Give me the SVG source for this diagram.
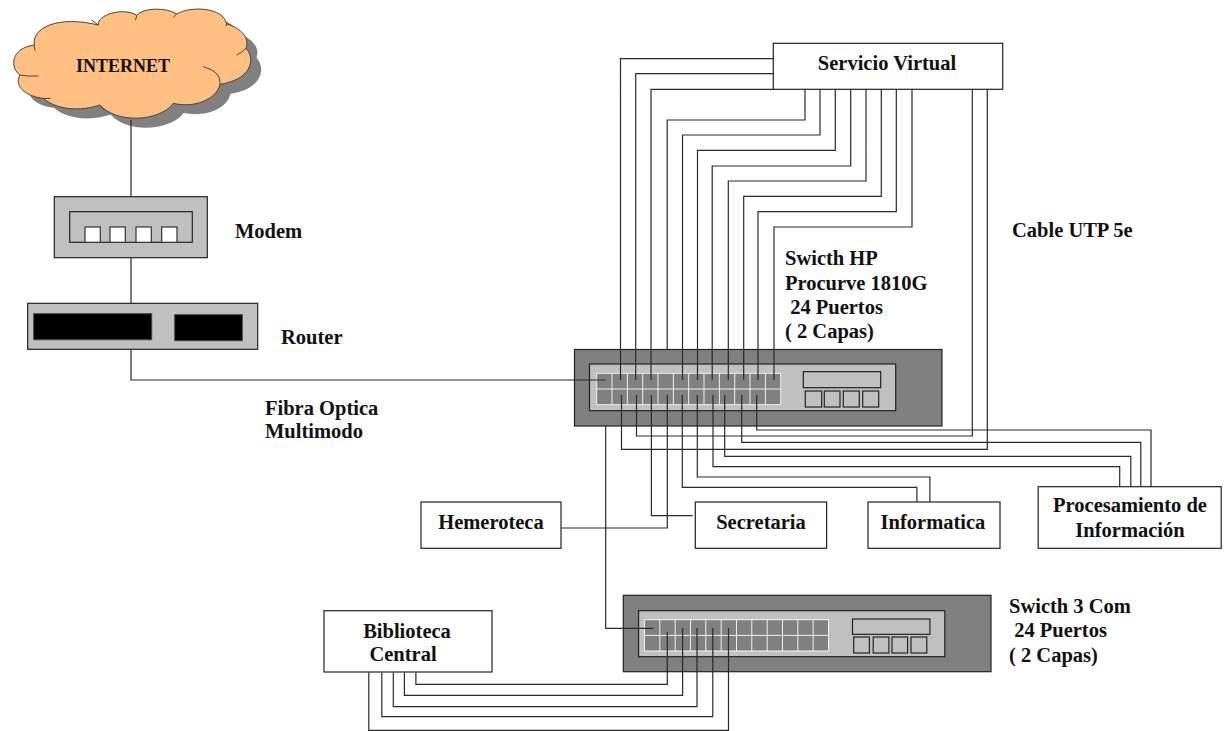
<svg xmlns="http://www.w3.org/2000/svg" width="1225" height="731" viewBox="0 0 1225 731">
<style>
text{font-family:"Liberation Serif","Times New Roman",serif;font-weight:bold;font-size:20.500px;fill:#111}
.m{text-anchor:middle}
.box{fill:#fff;stroke:#222;stroke-width:1.2}
.outer{fill:#808080;stroke:#222;stroke-width:1.2}
.inner{fill:#c0c0c0;stroke:#222;stroke-width:1.2}
.blk{fill:#000;stroke:#444;stroke-width:1}
.wht{fill:#fff;stroke:#333;stroke-width:1.2}
.grid{fill:none;stroke:#f0f0f0;stroke-width:1}
.cl{fill:none;stroke:#2a2a2a;stroke-width:1.2}
.arc{fill:none;stroke:#444;stroke-width:3}
</style>
<defs>
<path id="cloud" d="M103 135C95 85 170 45 295 75C290 45 370 20 410 46C430 22 500 22 530 42C570 18 670 20 680 72C725 85 750 115 738 145C770 180 750 240 660 253C650 300 580 325 520 310C480 365 350 372 300 315C240 335 170 330 130 295C80 290 40 260 60 225C30 205 30 145 103 135Z"/>
<path id="ports" d="M0 0H184V31.400H0ZM0 15.700H184M15.300 0V31.400M30.700 0V31.400M46 0V31.400M61.300 0V31.400M76.700 0V31.400M92 0V31.400M107.300 0V31.400M122.700 0V31.400M138 0V31.400M153.300 0V31.400M168.700 0V31.400"/>
</defs>
<rect width="1225" height="731" fill="#fff"/>
<g id="internet">
<use href="#cloud" transform="translate(10.500 9.500) scale(.3333)" fill="#808080"/>
<g transform="scale(.3333)">
<use href="#cloud" fill="#ffbf80" stroke="#444" stroke-width="3"/>
<path class="arc" d="M103 135Q101 145 106 152M295 75Q285 68 275 60M410 46Q409 55 406 60M530 42Q525 48 520 52M680 72Q680 75 678 78M738 145Q730 155 710 165M610 200Q665 215 660 253M300 315Q305 323 312 330M130 295Q142 296 152 295M60 225Q85 230 115 228"/>
</g>
<text class="m" x="123" y="72" style="font-size:18px">INTERNET</text>
</g>
<g id="modem">
<rect class="inner" x="54.300" y="196.700" width="153" height="61"/>
<rect class="inner" x="69.700" y="211.700" width="122.600" height="30.600"/>
<rect class="wht" x="85" y="227" width="15.300" height="15.300"/>
<rect class="wht" x="110" y="227" width="15.300" height="15.300"/>
<rect class="wht" x="136" y="227" width="15.300" height="15.300"/>
<rect class="wht" x="161.700" y="227" width="15.300" height="15.300"/>
<text x="235" y="238">Modem</text>
</g>
<g id="router">
<rect class="inner" x="27.700" y="303.300" width="230" height="46"/>
<rect class="blk" x="33.700" y="313.700" width="118" height="26"/>
<rect class="blk" x="174.700" y="314.700" width="67.600" height="26"/>
<text x="281" y="344">Router</text>
</g>
<g id="servicio-virtual">
<rect class="box" x="773.300" y="43.300" width="229.400" height="46"/>
<text class="m" x="887" y="70">Servicio Virtual</text>
</g>
<g id="switch-hp">
<rect class="outer" x="574.500" y="349.500" width="367.500" height="76.500"/>
<rect class="inner" x="589.500" y="364" width="306.200" height="46.700"/>
<path fill="#808080" d="M596.700 373.300h184v31.400h-184z"/>
<use href="#ports" class="grid" x="596.700" y="373.300"/>
<rect class="inner" x="803.300" y="371.700" width="77.400" height="16"/>
<rect class="inner" x="805.300" y="391" width="16.400" height="16"/>
<rect class="inner" x="824.300" y="391" width="15.700" height="16"/>
<rect class="inner" x="843.300" y="391" width="16" height="16"/>
<rect class="inner" x="862.700" y="391" width="16" height="16"/>
<text x="785" y="265">Swicth HP</text>
<text x="785" y="290">Procurve 1810G</text>
<text x="785" y="314" xml:space="preserve"> 24 Puertos</text>
<text x="785" y="338">( 2 Capas)</text>
</g>
<g id="switch-3com">
<rect class="outer" x="623.300" y="595.300" width="367.700" height="76.400"/>
<rect class="inner" x="638.600" y="610.700" width="306.200" height="46"/>
<path fill="#808080" d="M644.300 620h184.500v30.700h-184.500z"/>
<use href="#ports" class="grid" x="644.500" y="619.700"/>
<rect class="inner" x="852.500" y="619" width="77.400" height="15.300"/>
<rect class="inner" x="853.700" y="637" width="15.700" height="16"/>
<rect class="inner" x="873.200" y="637" width="15.700" height="16"/>
<rect class="inner" x="892" y="637" width="15.600" height="16"/>
<rect class="inner" x="911" y="637" width="15.800" height="16"/>
<text x="1009" y="613">Swicth 3 Com</text>
<text x="1009" y="637" xml:space="preserve"> 24 Puertos</text>
<text x="1009" y="662">( 2 Capas)</text>
</g>
<g id="hemeroteca">
<rect class="box" x="421" y="502" width="140" height="46.300"/>
<text class="m" x="491" y="529">Hemeroteca</text>
</g>
<g id="secretaria">
<rect class="box" x="695.300" y="502" width="131.300" height="46.300"/>
<text class="m" x="761" y="529">Secretaria</text>
</g>
<g id="informatica">
<rect class="box" x="868" y="502" width="132" height="46.300"/>
<text class="m" x="933" y="529">Informatica</text>
</g>
<g id="procesamiento">
<rect class="box" x="1038.200" y="486.700" width="183" height="61.600"/>
<text class="m" x="1130" y="512">Procesamiento de</text>
<text class="m" x="1130" y="537">Información</text>
</g>
<g id="biblioteca">
<rect class="box" x="324" y="610.700" width="168" height="61.300"/>
<text class="m" x="407" y="638">Biblioteca</text>
<text class="m" x="403" y="661">Central</text>
</g>
<g id="labels">
<text x="265" y="415">Fibra Optica</text>
<text x="265" y="438">Multimodo</text>
<text x="1012" y="237">Cable UTP 5e</text>
</g>
<g id="connectors" class="cl">
<path d="M131 120V196.700M131 257.700V303.300M131 349.300V380H605.700"/>
<path d="M773.300 58.700H620.500V380M773.300 73.700H635.700V380M773.300 89.300H651V380"/>
<path d="M805 89.300V120H667.200V349.500M820 89.300V135H682.500V380M835.300 89.300V150.300H697.500V380M850.700 89.300V166H712.200V380M866 89.300V181H728.300V380M881.300 89.300V196.300H743.700V380M896.300 89.300V211.700H758V380M912 89.300V227H774V380"/>
<path d="M972.300 89.300V436H636.500V395M987.300 89.300V449.300H621.500V395"/>
<path d="M756.700 395V430H1151V486.700M741.700 395V442.300H1140.800V486.700M724.700 395V456.300H1130.800V486.700M713 395V466.700H1119.700V486.700"/>
<path d="M697.300 395V477H929.900V502M682.300 395V487.300H916.900V502"/>
<path d="M651.400 395V515.700H692.600M667.300 395V528H561"/>
<path d="M605.700 426V628.300H653.500"/>
<path d="M667.300 632V684.300H415.900V672.400M682.600 628V695.300H404.400V672.400M697 628V706.700H393.300V672.400M712.800 628V716.700H381.800V672.400M728.500 628V730.300H368.800V672.400"/>
</g>
</svg>
